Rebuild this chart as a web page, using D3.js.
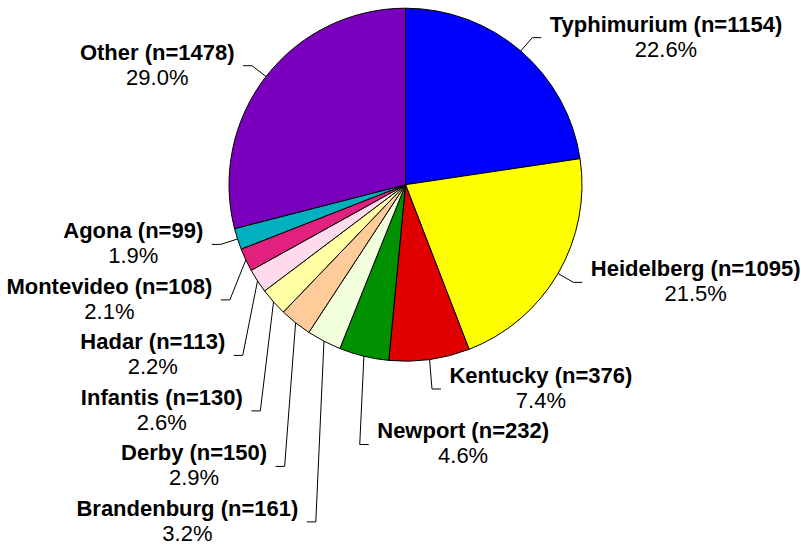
<!DOCTYPE html>
<html>
<head>
<meta charset="utf-8">
<script src="https://cdn.jsdelivr.net/npm/d3@7"></script>
<style>
  html, body { margin: 0; padding: 0; background: #fff; }
  svg { display: block; }
  text { font-family: "Liberation Sans", Arial, Helvetica, sans-serif; font-size: 22px; fill: #000; }
</style>
</head>
<body>
<svg id="chart" width="801" height="546"></svg>
<script>
// Serotypes, in drawing order (clockwise from 12 o'clock)
const serotypes = ["Typhimurium", "Heidelberg", "Kentucky", "Newport", "Brandenburg",
                   "Derby", "Infantis", "Hadar", "Montevideo", "Agona", "Other"];
const counts = [1154, 1095, 376, 232, 161, 150, 130, 113, 108, 99, 1478];
const sliceColors = ["#0000ff", "#ffff00", "#e00000", "#009100", "#f2ffdc",
                     "#ffcc99", "#ffffa6", "#ffd9ec", "#e2207e", "#00b0bf", "#7b00bd"];

const W = 801, H = 546;
const cx = 405.5, cy = 184.7, r = 176.5;
const elbowR = r * 1.1;     // where the leader line turns horizontal
const tick = 9;             // horizontal leader length
const gap = 8.5;            // leader end to text
const nameOffset = -6;      // name baseline relative to the leader
const pctOffset = 19;       // percentage baseline relative to the leader
const labelPitch = 55.5;    // minimum vertical distance between stacked labels
const pad = 12;             // clearance between label boxes and the pie

const total = d3.sum(counts);
const data = serotypes.map((name, i) => ({ name, n: counts[i], color: sliceColors[i] }));

const svg = d3.select("#chart");
const g = svg.append("g").attr("transform", `translate(${cx},${cy})`);

const pie = d3.pie().value(d => d.n).sort(null);
const arcs = pie(data);
const arc = d3.arc().innerRadius(0).outerRadius(r);

g.selectAll("path.slice")
  .data(arcs)
  .join("path")
  .attr("class", "slice")
  .attr("d", arc)
  .attr("fill", d => d.data.color)
  .attr("stroke", "#000")
  .attr("stroke-width", 1)
  .attr("stroke-linejoin", "round");

// Label layout
const pct = d => (d.n / total * 100).toFixed(1) + "%";
const measure = svg.append("text").style("font-weight", "bold").attr("visibility", "hidden");
const labels = arcs.map(a => {
  const mid = (a.startAngle + a.endAngle) / 2;
  const sx = Math.sin(mid), cyc = -Math.cos(mid);
  measure.text(`${a.data.name} (n=${a.data.n})`);
  const w = measure.node().getComputedTextLength();
  const side = mid < Math.PI * 1.1 ? 1 : -1;
  return {
    a, mid, side, w,
    ex: r * sx, ey: r * cyc,              // point on the rim
    kx: elbowR * sx, y: elbowR * cyc      // elbow
  };
});
measure.remove();

// keep a label box off the (padded) pie
function clear(L) {
  const nearX = L.kx + L.side * (tick + gap);   // text edge closest to the pie
  const R = r + pad;
  if (Math.abs(nearX) >= R) return L.y;
  const h = Math.sqrt(R * R - nearX * nearX);
  if (L.y > 0) return Math.max(L.y, h + 21);
  return Math.min(L.y, -h - 21);
}

const right = labels.filter(L => L.side > 0).sort((p, q) => p.mid - q.mid);
const left = labels.filter(L => L.side < 0).sort((p, q) => q.mid - p.mid);
[right, left].forEach(list => {
  let prev = -Infinity;
  list.forEach(L => {
    L.y = clear(L);
    L.y = Math.max(L.y, prev + labelPitch);
    prev = L.y;
  });
});

const lg = g.append("g");
labels.forEach(L => {
  const endX = L.kx + L.side * tick;
  lg.append("polyline")
    .attr("points", `${L.ex},${L.ey} ${L.kx},${L.y} ${endX},${L.y}`)
    .attr("fill", "none")
    .attr("stroke", "#000")
    .attr("stroke-width", 1);
  const edge = endX + L.side * gap;
  const center = edge + L.side * L.w / 2;
  lg.append("text")
    .attr("x", center).attr("y", L.y + nameOffset)
    .attr("text-anchor", "middle")
    .style("font-weight", "bold")
    .text(`${L.a.data.name} (n=${L.a.data.n})`);
  lg.append("text")
    .attr("x", center).attr("y", L.y + pctOffset)
    .attr("text-anchor", "middle")
    .text(pct(L.a.data));
});
</script>
</body>
</html>
